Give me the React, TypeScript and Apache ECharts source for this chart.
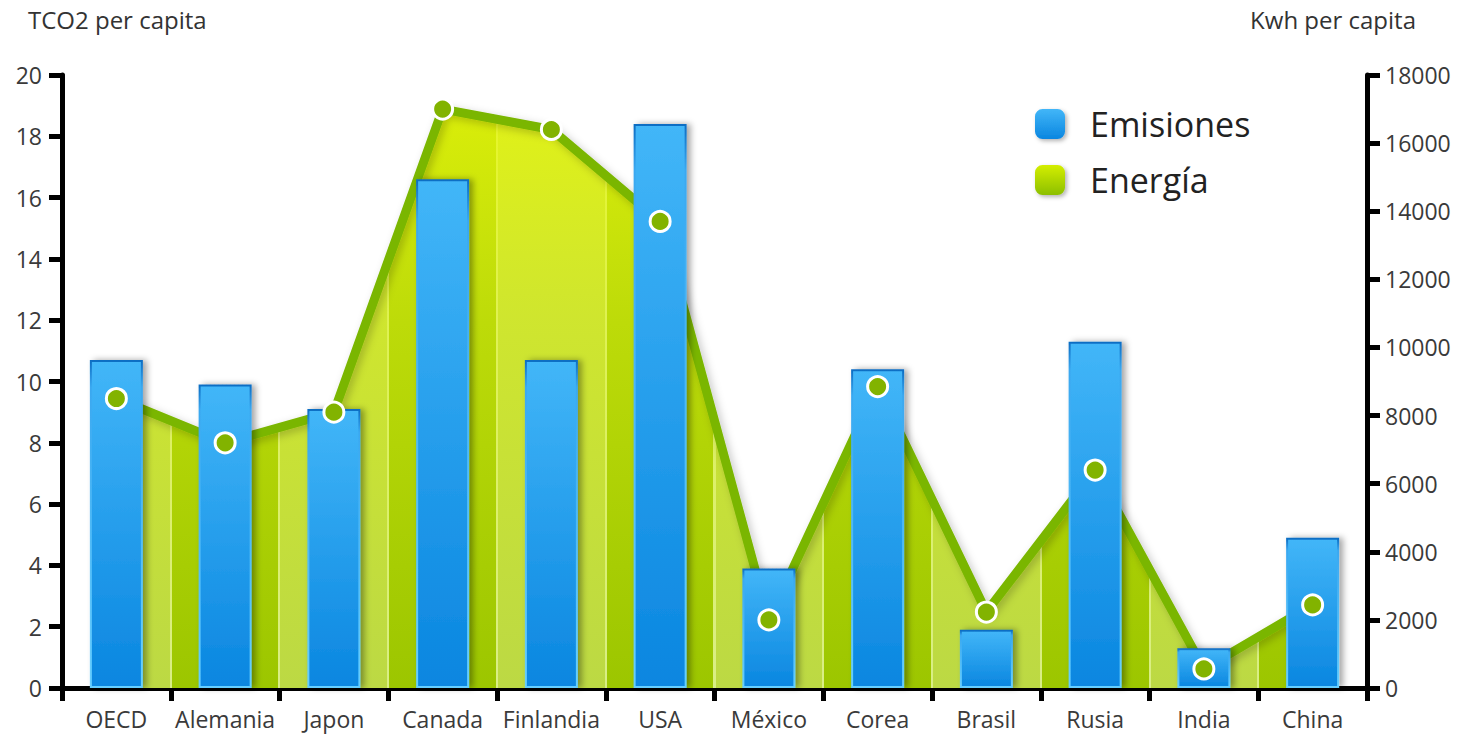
import React, { useEffect, useRef } from "react";
import * as echarts from "echarts";

const categories = ["OECD", "Alemania", "Japon", "Canada", "Finlandia", "USA", "México", "Corea", "Brasil", "Rusia", "India", "China"];
const emisiones = [10.7, 9.9, 9.1, 16.6, 10.7, 18.4, 3.9, 10.4, 1.9, 11.3, 1.3, 4.9];
const energia = [8500, 7200, 8100, 17000, 16400, 13700, 2000, 8850, 2230, 6400, 560, 2440];
const leftAxis = { min: 0, max: 20, interval: 2 };
const rightAxis = { min: 0, max: 18000, interval: 2000 };
const leftAxisName = "TCO2 per capita";
const rightAxisName = "Kwh per capita";
const seriesNames = ["Emisiones", "Energía"];

const FONT = "'Open Sans', 'DejaVu Sans', sans-serif";
const GRID = { left: 62, right: 99, top: 75, bottom: 47 };
const W = 1466;
const H = 735;

function stripeGradient() {
  const x0 = GRID.left;
  const x1 = W - GRID.right;
  const total = x1 - x0;
  const n = categories.length;
  const light = "#bcd944";
  const dark = "#9cc600";
  const thin = "#d9ee86";
  const lw = 2 / total;
  const stops: { offset: number; color: string }[] = [];
  for (let k = 0; k < n; k++) {
    const a = k / n;
    const b = (k + 1) / n;
    const c = k % 2 === 0 ? light : dark;
    if (k > 0) {
      stops.push({ offset: a - lw / 2, color: thin });
      stops.push({ offset: a + lw / 2, color: thin });
      stops.push({ offset: a + lw / 2, color: c });
    } else {
      stops.push({ offset: a, color: c });
    }
    stops.push({ offset: k < n - 1 ? b - lw / 2 : b, color: c });
  }
  return { type: "linear", x: x0, y: 0, x2: x1, y2: 0, colorStops: stops, global: true };
}

export default function App() {
  const ref = useRef<HTMLDivElement>(null);
  useEffect(() => {
    if (!ref.current) return;
    const chart = echarts.init(ref.current, null, { renderer: "svg" });
    const blueFill = {
      type: "linear", x: 0, y: 0, x2: 0, y2: 1,
      colorStops: [
        { offset: 0, color: "#42b6f8" },
        { offset: 1, color: "#0a86e0" },
      ],
    };
    const greenLegend = {
      type: "linear", x: 0, y: 0, x2: 0, y2: 1,
      colorStops: [
        { offset: 0, color: "#d4ee00" },
        { offset: 1, color: "#8cbf00" },
      ],
    };
    const option: any = {
      animation: false,
      backgroundColor: "#ffffff",
      grid: { ...GRID },
      legend: {
        orient: "vertical",
        left: 1030,
        top: 102,
        itemWidth: 30,
        itemHeight: 30,
        itemGap: 22,
        icon: "roundRect",
        textStyle: { fontSize: 34, color: "#222", fontFamily: FONT, padding: [0, 0, 0, 20] },
        data: [
          { name: seriesNames[0], itemStyle: { color: blueFill, borderWidth: 0, shadowColor: "rgba(0,0,0,0.3)", shadowBlur: 4, shadowOffsetX: 2, shadowOffsetY: 2 } },
          { name: seriesNames[1], itemStyle: { color: greenLegend, borderWidth: 0, shadowColor: "rgba(0,0,0,0.3)", shadowBlur: 4, shadowOffsetX: 2, shadowOffsetY: 2 } },
        ],
      },
      graphic: [
        { type: "text", left: 28, top: 7, style: { text: leftAxisName, fontSize: 24, fontFamily: FONT, fill: "#333" } },
        { type: "text", right: 50, top: 7, style: { text: rightAxisName, fontSize: 24, fontFamily: FONT, fill: "#333" } },
      ],
      xAxis: {
        type: "category",
        data: categories,
        boundaryGap: true,
        axisLine: { show: true, lineStyle: { color: "#000", width: 5 } },
        axisTick: { show: true, interval: 0, length: 13, lineStyle: { color: "#000", width: 5 } },
        axisLabel: { interval: 0, margin: 19, fontSize: 23, color: "#3a3a3a", fontFamily: FONT },
        splitLine: { show: false },
      },
      yAxis: [
        {
          type: "value",
          position: "left",
          min: leftAxis.min,
          max: leftAxis.max,
          interval: leftAxis.interval,
          axisLine: { show: true, lineStyle: { color: "#000", width: 5 } },
          axisTick: { show: true, length: 13, lineStyle: { color: "#000", width: 5 } },
          axisLabel: { margin: 20, fontSize: 23, color: "#3a3a3a", fontFamily: FONT },
          splitLine: { show: false },
        },
        {
          type: "value",
          position: "right",
          min: rightAxis.min,
          max: rightAxis.max,
          interval: rightAxis.interval,
          axisLine: { show: true, lineStyle: { color: "#000", width: 5 } },
          axisTick: { show: true, length: 13, lineStyle: { color: "#000", width: 5 } },
          axisLabel: { margin: 18, fontSize: 23, color: "#3a3a3a", fontFamily: FONT, formatter: (v: number) => String(v) },
          splitLine: { show: false },
        },
      ],
      series: [
        {
          name: "energia-franjas",
          type: "line",
          yAxisIndex: 1,
          data: energia,
          symbol: "none",
          z: 1,
          lineStyle: { opacity: 0 },
          areaStyle: { color: stripeGradient(), opacity: 1 },
        },
        {
          name: "energia-brillo",
          type: "line",
          yAxisIndex: 1,
          data: energia,
          symbol: "none",
          z: 1,
          lineStyle: { opacity: 0 },
          areaStyle: {
            opacity: 1,
            color: {
              type: "linear", x: 0, y: GRID.top, x2: 0, y2: H - GRID.bottom, global: true,
              colorStops: [
                { offset: 0, color: "rgba(234,248,10,0.85)" },
                { offset: 0.4, color: "rgba(230,245,20,0.45)" },
                { offset: 1, color: "rgba(230,245,20,0)" },
              ],
            },
          },
        },
        {
          name: seriesNames[1],
          type: "line",
          yAxisIndex: 1,
          data: energia,
          symbol: "none",
          z: 1,
          lineStyle: {
            color: "#7ab600",
            width: 9,
            join: "round",
            shadowColor: "rgba(0,0,0,0.22)",
            shadowBlur: 8,
            shadowOffsetX: 3,
            shadowOffsetY: 3,
          },
        },
        {
          name: seriesNames[0],
          type: "bar",
          yAxisIndex: 0,
          data: emisiones,
          barWidth: 53,
          z: 2,
          itemStyle: {
            color: blueFill,
            borderColor: {
              type: "linear", x: 0, y: 0, x2: 0, y2: 1,
              colorStops: [
                { offset: 0, color: "#0d6ec4" },
                { offset: 0.08, color: "#3aa8f0" },
                { offset: 1, color: "#66ceff" },
              ],
            },
            borderWidth: 2,
            shadowColor: "rgba(0,0,0,0.35)",
            shadowBlur: 6,
            shadowOffsetX: 4,
            shadowOffsetY: 0,
          },
        },
        {
          name: "energia-puntos",
          type: "line",
          yAxisIndex: 1,
          data: energia,
          z: 3,
          symbol: "circle",
          symbolSize: 20,
          lineStyle: { opacity: 0 },
          itemStyle: { color: "#82b300", borderColor: "#ffffff", borderWidth: 3 },
        },
      ],
    };
    chart.setOption(option);
    return () => chart.dispose();
  }, []);
  return <div ref={ref} style={{ position: "fixed", left: 0, top: 0, width: W, height: H }} />;
}
